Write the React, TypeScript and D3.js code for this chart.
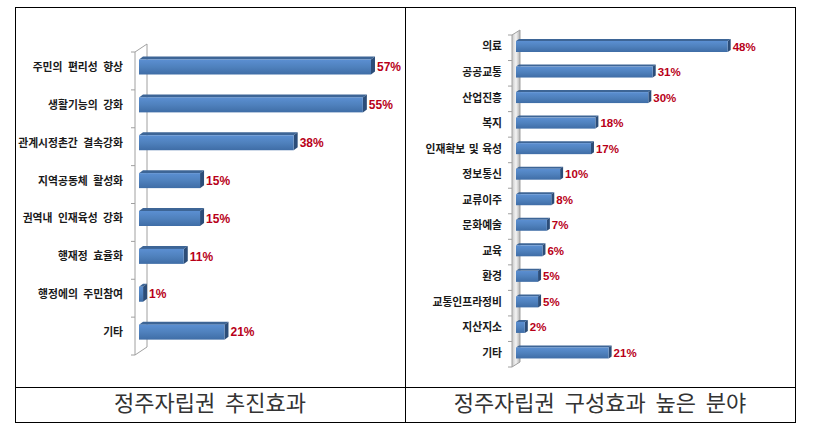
import React from "react";
import * as d3 from "d3";

const leftCategories = ["주민의 편리성 향상", "생활기능의 강화", "관계시정촌간 결속강화", "지역공동체 활성화", "권역내 인재육성 강화", "행재정 효율화", "행정에의 주민참여", "기타"];
const leftValues = [57, 55, 38, 15, 15, 11, 1, 21];
const leftTitle = "정주자립권  추진효과";

const rightCategories = ["의료", "공공교통", "산업진흥", "복지", "인재확보 및 육성", "정보통신", "교류이주", "문화예술", "교육", "환경", "교통인프라정비", "지산지소", "기타"];
const rightValues = [48, 31, 30, 18, 17, 10, 8, 7, 6, 5, 5, 2, 21];
const rightTitle = "정주자립권  구성효과  높은  분야";

const W = 823;
const H = 434;
const KFONT = "'Noto Sans CJK KR', 'Noto Sans', sans-serif";
const NFONT = "'Liberation Sans', Arial, sans-serif";

type ChartProps = {
  id: string;
  cats: string[];
  vals: number[];
  bandTop: number;
  bandBottom: number;
  x0: number;
  pxPer: number;
  barOff: number;
  barH: number;
  dx: number;
  dy: number;
  wallL: number;
  wallR: number;
  wallRise: number;
  wallFill: boolean;
  labelRight: number;
  catSize: number;
  valSize: number;
  wordSp: number;
};

function Chart(p: ChartProps) {
  const y = d3.scaleBand<string>().domain(p.cats).range([p.bandTop, p.bandBottom]);
  const x = d3.scaleLinear().domain([0, 1]).range([p.x0, p.x0 + p.pxPer]);
  const ticks = p.cats.map((c) => y(c) as number).concat([p.bandBottom]);
  const wallPts = [
    [p.wallL, p.bandTop],
    [p.wallR, p.bandTop - p.wallRise],
    [p.wallR, p.bandBottom - p.wallRise],
    [p.wallL, p.bandBottom],
  ];
  return (
    <g>
      <defs>
        <linearGradient id={p.id + "front"} x1="0" y1="0" x2="0" y2="1">
          <stop offset="0" stopColor="#5b8fd2" />
          <stop offset="0.5" stopColor="#4f81bd" />
          <stop offset="1" stopColor="#3f6da6" />
        </linearGradient>
        <linearGradient id={p.id + "wall"} x1="0" y1="0" x2="1" y2="0">
          <stop offset="0" stopColor="#c8c8c8" />
          <stop offset="0.5" stopColor="#f4f4f4" />
          <stop offset="1" stopColor="#b0b0b0" />
        </linearGradient>
      </defs>
      <polygon
        points={wallPts.map((q) => q.join(",")).join(" ")}
        fill={p.wallFill ? `url(#${p.id}wall)` : "white"}
        stroke="#a0a0a0"
        strokeWidth={1}
      />
      {ticks.map((t, i) => (
        <line key={i} x1={p.wallL - 4} x2={p.wallL} y1={t} y2={t} stroke="#a0a0a0" strokeWidth={1} />
      ))}
      {p.cats.map((c, i) => {
        const top = (y(c) as number) + p.barOff;
        const fy = top + p.dy;
        const fh = p.barH - p.dy;
        const xa = x(0);
        const xb = x(p.vals[i]);
        const cy = fy + fh / 2;
        return (
          <g key={c}>
            <polygon
              points={`${xa},${fy} ${xa + p.dx},${top} ${xb + p.dx},${top} ${xb},${fy}`}
              fill="#3d6596"
            />
            <polygon
              points={`${xb},${fy} ${xb + p.dx},${top} ${xb + p.dx},${top + fh} ${xb},${fy + fh}`}
              fill="#2c4d78"
            />
            <rect x={xa} y={fy} width={xb - xa} height={fh} fill={`url(#${p.id}front)`} />
            <text
              x={p.labelRight}
              y={cy + 1}
              textAnchor="end"
              dominantBaseline="middle"
              fontFamily={KFONT}
              fontWeight={700}
              fontSize={p.catSize}
              wordSpacing={p.wordSp}
              fill="#1a1a1a"
            >
              {c}
            </text>
            <text
              x={xb + p.dx + 2}
              y={cy + 1}
              dominantBaseline="middle"
              fontFamily={NFONT}
              fontWeight={700}
              fontSize={p.valSize}
              fill="#b80018"
            >
              {p.vals[i] + "%"}
            </text>
          </g>
        );
      })}
    </g>
  );
}

export default function App() {
  return (
    <svg
      width={W}
      height={H}
      style={{ position: "absolute", left: 0, top: 0, background: "white" }}
    >
      <rect x={0} y={0} width={W} height={H} fill="white" />
      <Chart
        id="L"
        cats={leftCategories}
        vals={leftValues}
        bandTop={52}
        bandBottom={355}
        x0={139}
        pxPer={4.07}
        barOff={4.5}
        barH={18}
        dx={4}
        dy={3}
        wallL={135}
        wallR={147}
        wallRise={8}
        wallFill={false}
        labelRight={123}
        catSize={10.8}
        valSize={12}
        wordSp={3}
      />
      <Chart
        id="R"
        cats={rightCategories}
        vals={rightValues}
        bandTop={35}
        bandBottom={367}
        x0={516}
        pxPer={4.41}
        barOff={4}
        barH={13}
        dx={3}
        dy={2}
        wallL={512}
        wallR={520}
        wallRise={5}
        wallFill={true}
        labelRight={502}
        catSize={10.8}
        valSize={11.5}
        wordSp={1}
      />
      <g stroke="#000" strokeWidth={1} fill="none">
        <rect x={15.5} y={7.5} width={780} height={415} />
        <line x1={405.5} x2={405.5} y1={7.5} y2={422.5} />
        <line x1={15.5} x2={795.5} y1={387.5} y2={387.5} />
      </g>
      <text
        x={210}
        y={405}
        textAnchor="middle"
        dominantBaseline="middle"
        fontFamily={KFONT}
        fontSize={22}
        fill="#333"
        style={{ whiteSpace: "pre" }}
      >
        {leftTitle}
      </text>
      <text
        x={600}
        y={405}
        textAnchor="middle"
        dominantBaseline="middle"
        fontFamily={KFONT}
        fontSize={22}
        fill="#333"
        style={{ whiteSpace: "pre" }}
      >
        {rightTitle}
      </text>
    </svg>
  );
}
